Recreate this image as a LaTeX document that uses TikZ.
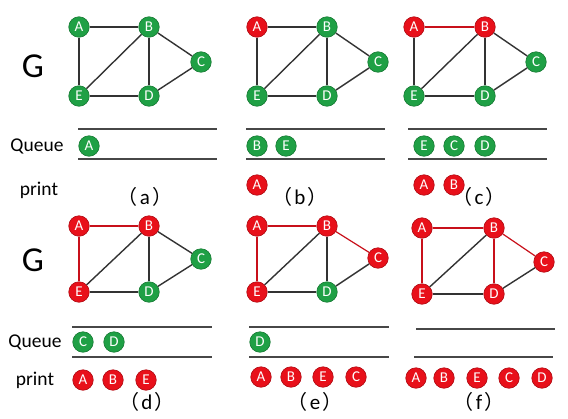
\documentclass[tikz,border=0pt]{standalone}
\usepackage{fontspec}
\setmainfont{Carlito}
\newfontfamily\cjkf{Noto Sans CJK SC}
\definecolor{ngreen}{HTML}{1FA045}
\definecolor{ngreendk}{HTML}{167A33}
\definecolor{nred}{HTML}{E8101A}
\definecolor{nreddk}{HTML}{B00A12}
\definecolor{egray}{HTML}{333333}
\definecolor{ered}{HTML}{C8101A}
\newcommand\paren[1]{{\cjkf\fontsize{20}{20}\selectfont （}\kern2pt{\fontsize{21}{21}\selectfont #1}\kern2pt{\cjkf\fontsize{20}{20}\selectfont ）}}
\tikzset{
  vtx/.style={circle, line width=0.6pt, minimum size=20.5pt, inner sep=0pt, text=white, font=\fontsize{15}{15}\selectfont},
  gn/.style={vtx, fill=ngreen, draw=ngreendk},
  rn/.style={vtx, fill=nred, draw=nreddk},
  ed/.style={draw=egray, line width=1.4pt},
  re/.style={draw=ered, line width=1.2pt},
  ql/.style={draw=egray!90, line width=1.4pt},
  lbl/.style={font=\fontsize{19.5}{19.5}\selectfont, text=black, inner sep=0pt},
  bigG/.style={font=\fontsize{35}{35}\selectfont, text=black, inner sep=0pt},
  captxt/.style={text=black, inner sep=0pt}
}
\begin{document}
\begin{tikzpicture}[x=1pt,y=-1pt]
\useasboundingbox (0,0) rectangle (568,418);
% ---------- labels
\node[bigG] (G1) at (33,66) {G};
\node[bigG] (G2) at (33,260) {G};
\node[lbl] (Q1) at (37,146) {Queue};
\node[lbl] (Q2) at (35,342) {Queue};
\node[lbl] (P1) at (39,190) {print};
\node[lbl] (P2) at (35,380) {print};
% ---------- panel a
\node[gn] (aA) at (79,27) {A};
\node[gn] (aB) at (149,27) {B};
\node[gn] (aC) at (201,62) {C};
\node[gn] (aE) at (79,96) {E};
\node[gn] (aD) at (149,96) {D};
\draw[ed] (aA)--(aB); \draw[ed] (aA)--(aE); \draw[ed] (aE)--(aB);
\draw[ed] (aB)--(aD); \draw[ed] (aB)--(aC); \draw[ed] (aE)--(aD); \draw[ed] (aD)--(aC);
\coordinate (a1) at (78,129); \coordinate (a2) at (217,129);
\coordinate (a3) at (78,159); \coordinate (a4) at (217,159);
\draw[ql] (a1)--(a2); \draw[ql] (a3)--(a4);
\node[gn] (aqA) at (89,146) {A};
\node[captxt] (capa) at (145,197) {\paren{a}};
% ---------- panel b
\node[rn] (bA) at (257,27) {A};
\node[gn] (bB) at (327,27) {B};
\node[gn] (bC) at (378,62) {C};
\node[gn] (bE) at (257,96) {E};
\node[gn] (bD) at (327,96) {D};
\draw[ed] (bA)--(bB); \draw[ed] (bA)--(bE); \draw[ed] (bE)--(bB);
\draw[ed] (bB)--(bD); \draw[ed] (bB)--(bC); \draw[ed] (bE)--(bD); \draw[ed] (bD)--(bC);
\coordinate (b1) at (246,129); \coordinate (b2) at (385,129);
\coordinate (b3) at (246,159); \coordinate (b4) at (385,159);
\draw[ql] (b1)--(b2); \draw[ql] (b3)--(b4);
\node[gn] (bqB) at (257,146) {B};
\node[gn] (bqE) at (286,146) {E};
\node[rn] (bpA) at (257,185) {A};
\node[captxt] (capb) at (300,197) {\paren{b}};
% ---------- panel c
\node[rn] (cA) at (414,27) {A};
\node[rn] (cB) at (485,27) {B};
\node[gn] (cC) at (536,62) {C};
\node[gn] (cE) at (414,96) {E};
\node[gn] (cD) at (485,96) {D};
\draw[re] (cA)--(cB); \draw[ed] (cA)--(cE); \draw[ed] (cE)--(cB);
\draw[ed] (cB)--(cD); \draw[ed] (cB)--(cC); \draw[ed] (cE)--(cD); \draw[ed] (cD)--(cC);
\coordinate (c1) at (408,129); \coordinate (c2) at (547,129);
\coordinate (c3) at (408,159); \coordinate (c4) at (547,159);
\draw[ql] (c1)--(c2); \draw[ql] (c3)--(c4);
\node[gn] (cqE) at (424,146) {E};
\node[gn] (cqC) at (454,146) {C};
\node[gn] (cqD) at (485,146) {D};
\node[rn] (cpA) at (424,185) {A};
\node[rn] (cpB) at (454,185) {B};
\node[captxt] (capc) at (479,197) {\paren{c}};
% ---------- panel d
\node[rn] (dA) at (79,226) {A};
\node[rn] (dB) at (149,226) {B};
\node[gn] (dC) at (201,259) {C};
\node[rn] (dE) at (79,292) {E};
\node[gn] (dD) at (149,292) {D};
\draw[re] (dA)--(dB); \draw[re] (dA)--(dE); \draw[ed] (dE)--(dB);
\draw[ed] (dB)--(dD); \draw[ed] (dB)--(dC); \draw[ed] (dE)--(dD); \draw[ed] (dD)--(dC);
\coordinate (d1) at (72,327); \coordinate (d2) at (212,327);
\coordinate (d3) at (72,357); \coordinate (d4) at (212,357);
\draw[ql] (d1)--(d2); \draw[ql] (d3)--(d4);
\node[gn] (dqC) at (83,342) {C};
\node[gn] (dqD) at (114,342) {D};
\node[rn] (dpA) at (83,380) {A};
\node[rn] (dpB) at (113,380) {B};
\node[rn] (dpE) at (146,380) {E};
\node[captxt] (capd) at (147,402) {\paren{d}};
% ---------- panel e
\node[rn] (eA) at (257,226) {A};
\node[rn] (eB) at (327,226) {B};
\node[rn] (eC) at (378,258) {C};
\node[rn] (eE) at (257,292) {E};
\node[gn] (eD) at (327,292) {D};
\draw[re] (eA)--(eB); \draw[re] (eA)--(eE); \draw[ed] (eE)--(eB);
\draw[ed] (eB)--(eD); \draw[re] (eB)--(eC); \draw[ed] (eE)--(eD); \draw[ed] (eD)--(eC);
\coordinate (e1) at (249,327); \coordinate (e2) at (389,327);
\coordinate (e3) at (249,357); \coordinate (e4) at (389,357);
\draw[ql] (e1)--(e2); \draw[ql] (e3)--(e4);
\node[gn] (eqD) at (260,342) {D};
\node[rn] (epA) at (261,377) {A};
\node[rn] (epB) at (291,377) {B};
\node[rn] (epE) at (323,377) {E};
\node[rn] (epC) at (356,377) {C};
\node[captxt] (cape) at (315,402) {\paren{e}};
% ---------- panel f
\node[rn] (fA) at (422,228) {A};
\node[rn] (fB) at (494,228) {B};
\node[rn] (fC) at (544,262) {C};
\node[rn] (fE) at (422,294) {E};
\node[rn] (fD) at (494,294) {D};
\draw[re] (fA)--(fB); \draw[re] (fA)--(fE); \draw[ed] (fE)--(fB);
\draw[re] (fB)--(fD); \draw[re] (fB)--(fC); \draw[ed] (fE)--(fD); \draw[ed] (fD)--(fC);
\coordinate (f1) at (416,329); \coordinate (f2) at (555,329);
\coordinate (f3) at (414,357); \coordinate (f4) at (553,357);
\draw[ql] (f1)--(f2); \draw[ql] (f3)--(f4);
\node[rn] (fpA) at (416,378) {A};
\node[rn] (fpB) at (444,378) {B};
\node[rn] (fpE) at (477,378) {E};
\node[rn] (fpC) at (509,378) {C};
\node[rn] (fpD) at (542,378) {D};
\node[captxt] (capf) at (479,402) {\paren{f}};
\end{tikzpicture}
\end{document}
